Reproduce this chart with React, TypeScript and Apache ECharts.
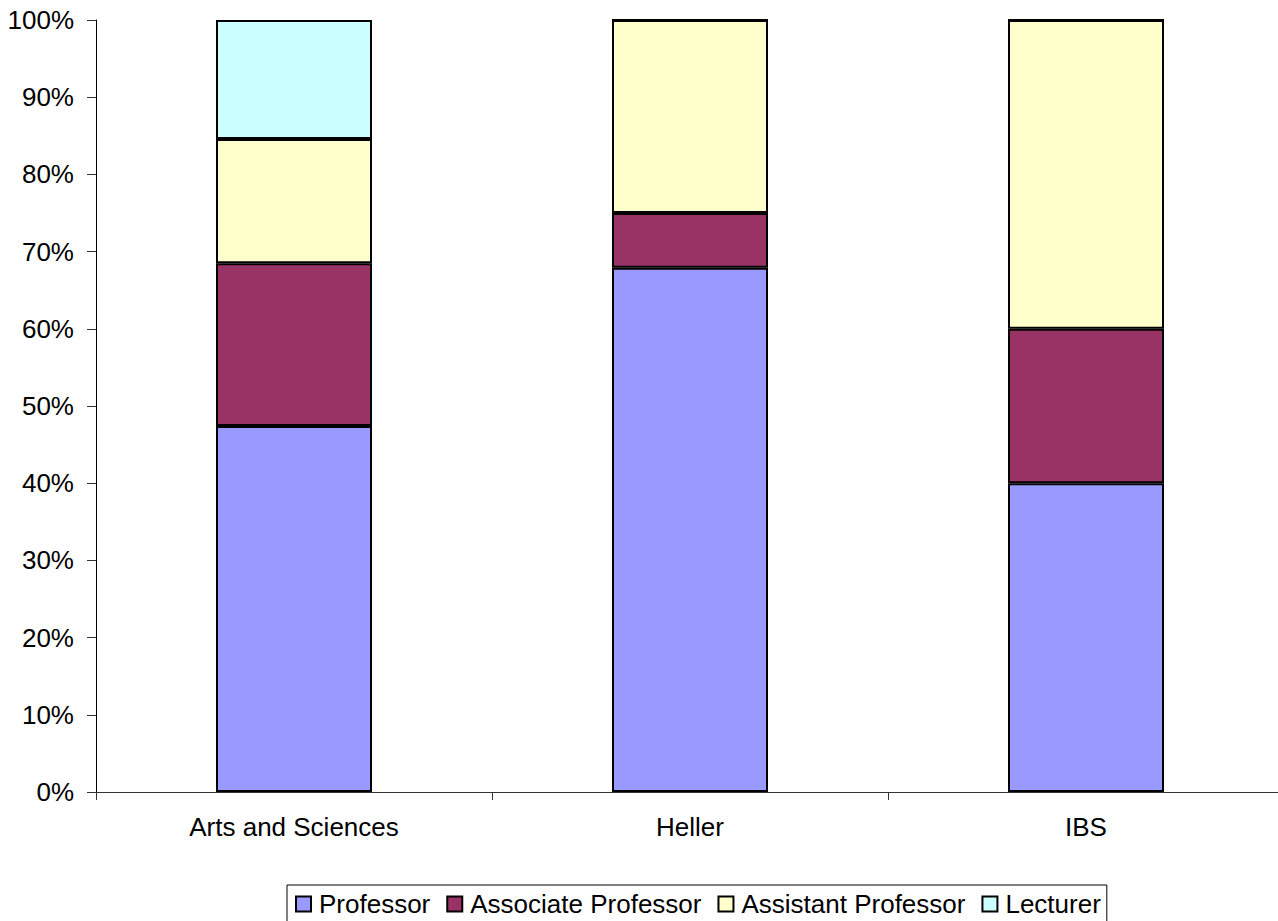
import React, { useEffect, useRef } from "react";
import * as echarts from "echarts";

const categories = ["Arts and Sciences", "Heller", "IBS"];
const seriesNames = ["Professor", "Associate Professor", "Assistant Professor", "Lecturer"];
const professor = [47.4, 67.9, 40.0];
const associateProfessor = [21.1, 7.1, 20.0];
const assistantProfessor = [16.1, 25.0, 40.0];
const lecturer = [15.4, 0, 0];
const colors = ["#9999FF", "#993366", "#FFFFCC", "#CCFFFF"];

const FONT = "'Liberation Sans', Arial, sans-serif";

export default function App() {
  const ref = useRef<HTMLDivElement>(null);
  useEffect(() => {
    if (!ref.current) return;
    const chart = echarts.init(ref.current, undefined, { renderer: "svg" });
    const values = [professor, associateProfessor, assistantProfessor, lecturer];
    chart.setOption({
      animation: false,
      backgroundColor: "#ffffff",
      textStyle: { fontFamily: FONT },
      grid: { left: 96, top: 20, bottom: 129, right: 6, containLabel: false },
      legend: {
        left: 287,
        top: 885,
        orient: "horizontal",
        padding: [6, 6, 6, 8],
        borderColor: "#000",
        borderWidth: 1,
        itemGap: 16,
        itemWidth: 15,
        itemHeight: 15,
        icon: "rect",
        itemStyle: { borderColor: "#000", borderWidth: 2 },
        textStyle: { fontFamily: FONT, fontSize: 26, color: "#000", padding: [0, 0, 0, 3] },
        data: seriesNames,
      },
      xAxis: {
        type: "category",
        data: categories,
        axisLine: { lineStyle: { color: "#333", width: 1 } },
        axisTick: { show: true, length: 8, lineStyle: { color: "#333" } },
        axisLabel: { fontFamily: FONT, fontSize: 26, color: "#000", margin: 22 },
        splitLine: { show: false },
      },
      yAxis: {
        type: "value",
        min: 0,
        max: 100,
        interval: 10,
        axisLine: { show: true, lineStyle: { color: "#000", width: 1 } },
        axisTick: { show: true, length: 9, lineStyle: { color: "#333" } },
        axisLabel: { fontFamily: FONT, fontSize: 26, color: "#000", margin: 22, formatter: "{value}%" },
        splitLine: { show: false },
      },
      series: seriesNames.map((name, i) => ({
        name,
        type: "bar",
        stack: "total",
        barWidth: 156,
        data: values[i],
        itemStyle: { color: colors[i], borderColor: "#000", borderWidth: 2 },
      })),
    });
    return () => chart.dispose();
  }, []);
  return (
    <div
      style={{ position: "fixed", left: 0, top: 0, width: 1278, height: 921, overflow: "hidden", background: "#fff" }}
    >
      <div ref={ref} style={{ width: 1290, height: 921 }} />
    </div>
  );
}
